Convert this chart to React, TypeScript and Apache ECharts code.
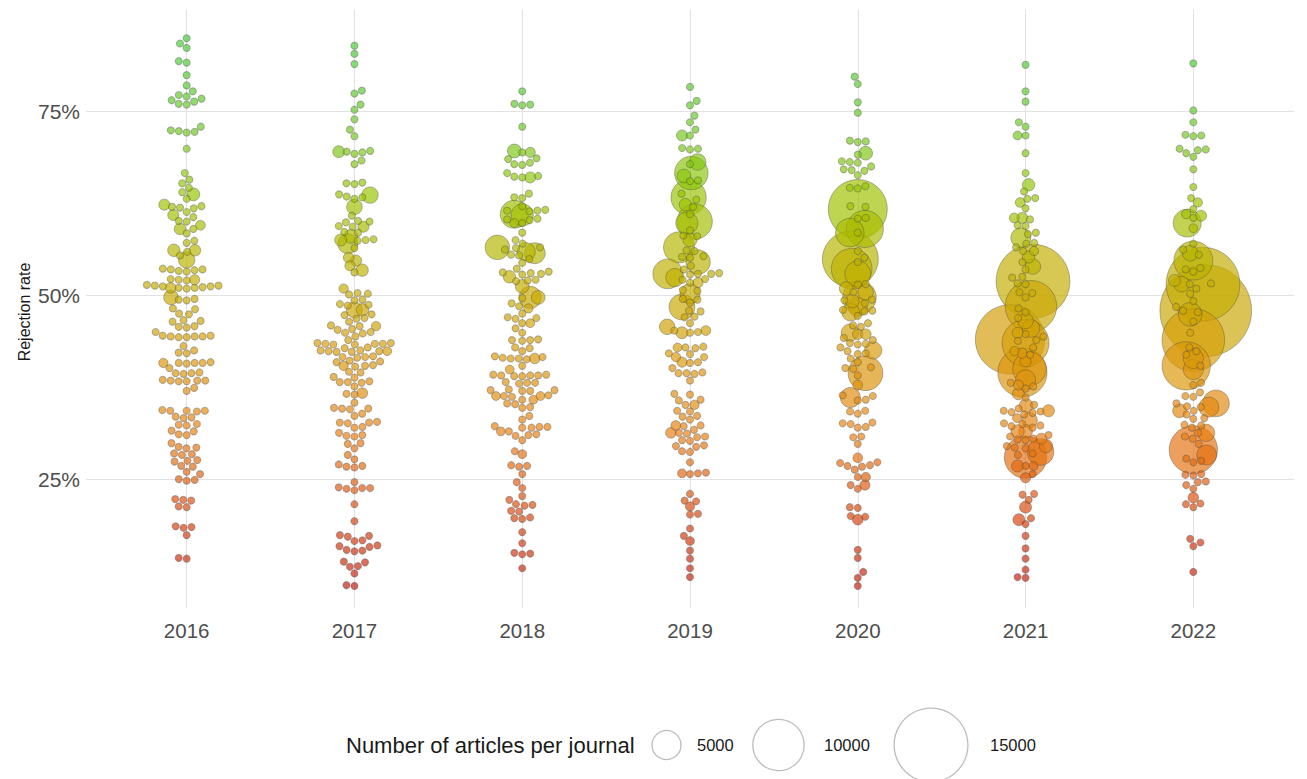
import React, { useEffect, useRef } from "react";
import * as echarts from "echarts";

// ---------- data ----------
const years = ["2016", "2017", "2018", "2019", "2020", "2021", "2022"];
const smallJournalArticles = 120; // typical size of the many small journals
const legendBreaks = [5000, 10000, 15000];
const yTickValues = [25, 50, 75];

// rejection rate (%) of small journals
const rates2016 = [84.9, 84.2, 83.6, 81.8, 81.6, 79.9, 78.5, 77.7, 77.2, 76.0, 76.5, 77.0, 76.3, 76.7, 75.9, 72.9, 72.1, 72.3, 72.2, 72.4, 69.9, 66.6, 65.7, 65.2, 64.6, 64.0, 63.1, 61.9, 62.1, 62.0, 61.8, 61.3, 60.6, 60.0, 60.1, 59.0, 58.4, 57.4, 57.1, 55.9, 55.4, 53.5, 53.4, 53.6, 53.5, 53.3, 53.2, 52.1, 52.0, 52.2, 51.3, 51.0, 51.2, 51.4, 51.1, 51.0, 51.3, 51.2, 50.9, 49.4, 49.3, 49.5, 48.2, 48.1, 47.5, 47.4, 46.5, 46.6, 46.4, 45.7, 45.6, 45.8, 45.0, 44.4, 44.3, 44.5, 44.4, 44.3, 44.5, 44.4, 43.1, 42.5, 42.2, 42.1, 40.8, 40.7, 40.9, 40.8, 40.8, 40.1, 39.4, 39.3, 39.5, 39.4, 38.4, 38.3, 38.5, 38.4, 38.3, 38.4, 37.4, 37.0, 34.3, 34.2, 34.4, 34.3, 34.3, 33.4, 33.3, 33.5, 32.4, 32.3, 32.5, 31.6, 31.5, 31.1, 31.0, 29.9, 29.3, 29.2, 29.4, 28.4, 28.3, 28.5, 27.5, 27.4, 27.6, 26.8, 26.7, 26.0, 25.7, 24.9, 24.8, 25.0, 22.2, 22.1, 22.3, 21.3, 21.2, 18.5, 18.4, 18.6, 17.4, 14.3, 14.2];
const rates2017 = [83.9, 82.8, 81.4, 77.8, 77.4, 75.9, 75.2, 73.9, 72.5, 71.6, 69.6, 69.4, 69.5, 69.2, 68.3, 67.8, 65.3, 65.1, 65.2, 63.7, 63.3, 63.4, 63.1, 60.8, 60.0, 60.1, 59.9, 59.3, 59.4, 58.5, 58.6, 57.5, 57.4, 57.6, 56.4, 53.1, 50.2, 50.3, 50.1, 49.3, 49.4, 48.7, 48.8, 48.6, 47.4, 47.3, 46.9, 46.8, 46.4, 45.8, 45.9, 45.4, 45.3, 44.9, 45.0, 44.8, 44.4, 43.9, 43.4, 43.3, 43.5, 43.4, 43.3, 43.5, 43.4, 42.9, 42.8, 42.4, 42.3, 42.5, 42.4, 42.3, 42.5, 41.6, 41.5, 41.7, 41.6, 41.0, 40.9, 41.1, 40.3, 40.5, 40.4, 39.6, 39.5, 38.9, 38.8, 38.2, 38.1, 38.3, 38.2, 37.6, 36.6, 36.5, 35.4, 34.6, 34.5, 34.7, 34.6, 33.9, 33.6, 32.7, 32.6, 32.8, 32.7, 32.0, 32.1, 31.3, 30.9, 30.8, 31.0, 29.9, 29.8, 29.2, 28.3, 27.7, 27.0, 26.7, 26.6, 26.8, 24.6, 23.8, 23.7, 23.9, 23.8, 23.5, 21.6, 19.3, 17.3, 17.2, 17.4, 16.7, 16.6, 15.9, 15.8, 16.0, 15.3, 15.2, 15.4, 13.8, 13.7, 13.2, 13.1, 12.2, 10.6, 10.5];
const rates2018 = [77.7, 75.9, 76.0, 75.8, 72.9, 69.4, 68.5, 68.6, 68.0, 67.7, 67.8, 66.6, 66.1, 66.2, 66.0, 63.8, 63.2, 63.3, 62.1, 61.5, 61.4, 61.6, 61.5, 60.3, 60.2, 60.4, 59.8, 58.5, 57.5, 57.0, 56.5, 56.4, 56.2, 55.5, 55.4, 54.9, 54.4, 53.6, 53.1, 53.0, 53.2, 52.9, 52.8, 52.0, 51.9, 52.1, 49.6, 48.9, 48.5, 47.5, 46.9, 46.8, 47.0, 46.2, 45.5, 44.9, 43.9, 43.8, 44.0, 43.9, 42.9, 42.8, 42.4, 41.7, 41.6, 41.4, 41.3, 41.5, 41.4, 40.4, 39.1, 39.0, 39.2, 39.1, 39.0, 39.2, 39.1, 38.1, 38.0, 38.2, 38.1, 37.1, 37.0, 37.2, 37.1, 37.0, 36.3, 36.2, 36.4, 35.8, 35.3, 35.2, 34.8, 34.7, 33.6, 33.1, 32.1, 32.0, 32.2, 32.1, 32.0, 31.5, 31.0, 30.9, 31.1, 30.3, 28.8, 26.8, 26.7, 26.9, 25.7, 24.6, 23.8, 22.7, 22.2, 21.5, 21.4, 21.6, 20.7, 20.6, 19.7, 19.6, 19.8, 17.8, 16.3, 14.9, 14.8, 15.0, 12.9];
const rates2019 = [78.3, 76.4, 75.8, 74.4, 73.5, 72.5, 71.7, 69.9, 69.8, 70.0, 67.8, 65.6, 65.5, 63.8, 63.0, 62.0, 61.0, 58.8, 58.0, 58.1, 56.0, 56.1, 55.2, 55.1, 55.3, 54.0, 53.5, 52.9, 52.8, 53.0, 52.9, 52.2, 52.1, 51.7, 50.7, 50.6, 49.4, 49.5, 49.0, 47.9, 47.8, 47.0, 47.1, 46.2, 45.2, 45.0, 44.9, 42.9, 42.8, 43.0, 42.1, 42.0, 41.6, 40.9, 40.8, 40.1, 39.4, 39.3, 39.5, 39.4, 38.4, 36.6, 36.5, 35.8, 35.7, 35.1, 34.3, 34.2, 33.6, 33.5, 33.1, 32.3, 32.2, 31.7, 31.3, 31.2, 30.8, 30.7, 30.3, 30.2, 29.5, 29.4, 29.6, 28.8, 28.7, 27.3, 25.8, 25.7, 25.9, 23.0, 22.1, 22.0, 20.3, 20.2, 18.3, 17.3, 15.3, 14.2, 12.9, 11.7];
const rates2020 = [79.7, 78.7, 76.2, 74.8, 70.9, 70.8, 71.0, 69.1, 68.1, 68.0, 68.2, 67.5, 67.0, 66.9, 67.1, 66.3, 64.8, 64.6, 64.5, 62.0, 62.1, 60.5, 60.4, 58.5, 56.0, 55.1, 54.5, 51.5, 51.4, 50.4, 49.4, 49.3, 48.9, 47.9, 47.8, 48.0, 47.2, 46.2, 45.9, 45.7, 44.2, 43.9, 43.4, 43.3, 43.5, 42.9, 42.4, 42.1, 42.0, 41.4, 40.9, 40.1, 40.0, 40.2, 39.1, 36.4, 36.3, 35.8, 35.7, 34.3, 34.2, 33.9, 32.6, 32.5, 32.7, 32.1, 32.0, 30.8, 30.7, 29.8, 27.3, 27.2, 26.8, 26.7, 26.9, 26.3, 25.3, 24.2, 23.7, 21.2, 21.1, 20.0, 19.9, 15.4, 14.3, 12.4, 11.6, 10.5];
const rates2021 = [81.3, 77.7, 76.3, 73.5, 72.9, 71.7, 69.3, 66.6, 64.1, 63.2, 63.1, 61.8, 60.3, 59.5, 59.4, 58.5, 58.3, 57.0, 57.1, 56.5, 56.0, 54.5, 53.5, 52.5, 52.4, 51.6, 51.5, 50.4, 50.3, 49.7, 48.2, 47.7, 46.9, 44.7, 44.4, 43.9, 43.8, 42.9, 41.9, 38.1, 37.6, 37.3, 36.1, 35.1, 34.6, 34.1, 34.0, 34.3, 34.2, 33.8, 32.6, 32.5, 32.3, 32.2, 32.0, 31.0, 30.8, 30.5, 30.3, 30.4, 29.3, 29.2, 29.5, 28.3, 28.5, 26.8, 25.7, 23.0, 22.9, 22.2, 19.7, 18.9, 17.3, 15.6, 14.2, 12.7, 11.7, 11.6];
const rates2022 = [81.5, 75.1, 73.5, 71.7, 71.6, 71.8, 69.8, 69.7, 69.9, 69.3, 68.8, 67.1, 64.7, 63.2, 61.7, 60.5, 57.0, 56.2, 55.5, 53.5, 53.7, 51.5, 53.2, 51.6, 50.9, 50.2, 49.2, 48.4, 47.9, 47.7, 46.4, 44.9, 42.9, 41.9, 42.4, 40.4, 38.1, 37.8, 36.8, 36.3, 35.3, 34.8, 34.3, 34.9, 36.2, 33.8, 33.3, 33.2, 32.3, 32.0, 32.4, 30.8, 30.5, 31.3, 29.8, 27.8, 27.5, 27.3, 25.7, 25.5, 25.6, 24.7, 24.6, 24.2, 23.7, 21.7, 21.2, 21.6, 16.9, 16.4, 15.9, 12.4];

// [rejection rate %, number of articles] of larger journals
const large2016: [number, number][] = [[63.7, 1400], [62.3, 1000], [60.9, 1000], [59.5, 700], [59.0, 1100], [56.1, 1100], [56.1, 1300], [54.8, 2200], [52.1, 800], [51.0, 900], [49.7, 1800], [40.8, 600]];
const large2017: [number, number][] = [[69.5, 1200], [63.6, 2200], [62.0, 2000], [59.3, 1000], [58.0, 1600], [57.5, 1200], [57.0, 3000], [55.1, 900], [54.7, 1000], [54.0, 800], [53.4, 1300], [50.9, 600], [48.0, 2100], [48.0, 1300], [40.4, 600], [36.7, 900], [45.8, 600], [42.4, 500]];
const large2018: [number, number][] = [[69.6, 1600], [69.4, 800], [66.0, 1000], [61.0, 4800], [60.9, 3500], [59.8, 500], [56.5, 4000], [55.7, 3200], [55.9, 2600], [52.5, 1300], [51.2, 1600], [49.7, 3500], [49.7, 1600], [48.2, 600], [46.2, 500], [41.4, 900], [39.9, 500], [36.3, 500], [36.3, 500], [35.8, 500], [31.5, 500], [28.4, 500]];
const large2019: [number, number][] = [[71.7, 1000], [68.1, 2200], [66.6, 6000], [66.2, 1600], [63.3, 6400], [62.3, 1300], [60.0, 6400], [59.8, 3500], [57.5, 1600], [56.5, 5500], [54.5, 4000], [52.9, 5200], [52.4, 2600], [51.7, 800], [50.2, 3000], [48.4, 4300], [45.7, 2000], [45.2, 700], [44.9, 1200], [42.9, 500], [41.6, 600], [40.9, 800], [35.1, 600], [32.3, 700], [31.3, 900], [25.8, 500], [21.3, 600], [16.6, 500]];
const large2020: [number, number][] = [[69.3, 1600], [61.7, 11700], [59.0, 6800], [58.5, 4900], [54.9, 11000], [53.6, 7600], [52.9, 4300], [49.7, 6000], [50.4, 2000], [50.9, 1600], [49.2, 1600], [48.4, 2800], [47.7, 2500], [44.9, 2400], [44.7, 900], [44.7, 900], [42.5, 2400], [39.4, 6300], [37.8, 700], [36.1, 3000], [27.9, 700], [25.3, 600], [24.2, 800], [19.5, 900]];
const large2021: [number, number][] = [[65.0, 1300], [62.6, 700], [60.5, 1000], [60.5, 700], [57.8, 3000], [56.0, 600], [55.2, 1300], [51.9, 15000], [44.0, 14000], [48.5, 10000], [43.5, 9000], [39.5, 9500], [40.0, 6000], [28.0, 8000], [28.7, 4500], [53.9, 2000], [38.5, 3000], [45.5, 2500], [46.5, 2000], [33.0, 2000], [31.5, 1600], [35.0, 1600], [41.0, 1000], [21.2, 1200], [19.5, 1200], [44.9, 1000], [42.4, 600], [42.1, 800], [37.8, 800], [36.6, 1200], [34.3, 1200], [33.3, 500], [31.5, 1500], [30.5, 1000], [29.5, 1500], [26.8, 500], [26.8, 1200], [25.2, 800], [71.7, 500]];
const large2022: [number, number][] = [[62.6, 600], [61.0, 600], [59.8, 4800], [60.8, 1000], [59.1, 500], [54.7, 7200], [55.7, 2000], [52.0, 1200], [47.9, 19000], [51.5, 15000], [43.9, 12500], [40.4, 9300], [29.0, 9300], [34.8, 3000], [35.3, 4500], [39.9, 3000], [41.4, 3000], [47.4, 3800], [51.5, 2000], [34.3, 1600], [31.3, 2400], [28.3, 3000], [22.5, 900]];

const smallRates = [rates2016, rates2017, rates2018, rates2019, rates2020, rates2021, rates2022];
const largeJournals = [large2016, large2017, large2018, large2019, large2020, large2021, large2022];

// ---------- layout / style ----------
const W = 1307;
const H = 779;
const GRID = { left: 86, right: 13, top: 10, bottom: 171 };
const X_MIN = -0.6, X_MAX = 6.6, X_STEP = 0.2;
const Y_MIN = 7.5, Y_MAX = 88.75, Y_STEP = 1.25;
const FONT = '"Liberation Sans", Arial, Helvetica, sans-serif';
const GRID_COLOR = "#e2e2e2";
const palette = ["#c01c10", "#d8480e", "#e88010", "#d89a08", "#c0b000", "#98c400", "#66c828", "#44cc38"];

const pxPerX = (W - GRID.left - GRID.right) / (X_MAX - X_MIN);
const pxPerY = (H - GRID.top - GRID.bottom) / (Y_MAX - Y_MIN);

function radius(articles: number) {
  return 3.3 + 0.00224 * articles;
}

// simple beeswarm: place each point as close to the centre line as possible
function swarmOffsets(ys: number[], d: number): number[] {
  const order = ys.map((_, i) => i).sort((a, b) => ys[a] - ys[b]);
  const placed: { x: number; y: number }[] = [];
  const out = new Array(ys.length).fill(0);
  order.forEach((i, k) => {
    const y = ys[i];
    const cands = [0];
    for (const q of placed) {
      const dy = Math.abs(q.y - y);
      if (dy < d) {
        const dx = Math.sqrt(d * d - dy * dy);
        cands.push(q.x + dx, q.x - dx);
      }
    }
    const sign = k % 2 === 0 ? 1 : -1;
    cands.sort((a, b) => Math.abs(a) - Math.abs(b) || sign * (b - a));
    let best = 0;
    for (const c of cands) {
      let ok = true;
      for (const q of placed) {
        const dx = c - q.x;
        const dy = y - q.y;
        if (dx * dx + dy * dy < d * d - 0.01) {
          ok = false;
          break;
        }
      }
      if (ok) {
        best = c;
        break;
      }
    }
    placed.push({ x: best, y });
    out[i] = best;
  });
  return out;
}

function buildData() {
  const data: number[][] = [];
  years.forEach((_, yi) => {
    const pts: [number, number][] = [
      ...smallRates[yi].map((r) => [r, smallJournalArticles] as [number, number]),
      ...largeJournals[yi],
    ];
    const offs = swarmOffsets(pts.map((p) => p[0] * pxPerY), 8);
    pts.forEach((p, i) => data.push([yi + offs[i] / pxPerX, p[0], p[1]]));
  });
  data.sort((a, b) => b[2] - a[2]);
  return data;
}

function cycle(n: number, idx: number) {
  return Array.from({ length: n }, (_, i) => (i === idx ? GRID_COLOR : "rgba(0,0,0,0)"));
}

export default function App() {
  const ref = useRef<HTMLDivElement>(null);
  useEffect(() => {
    if (!ref.current) return;
    const chart = echarts.init(ref.current, undefined, { renderer: "svg" });
    const data = buildData();

    const legendCx = [666.5, 778.5, 931];
    const legendLabelX = [697, 824, 990];
    const legendY = 745;

    const graphic: any[] = [
      {
        type: "text",
        x: 24,
        y: 312,
        rotation: Math.PI / 2,
        style: { text: "Rejection rate", fontSize: 16, fontFamily: FONT, fill: "#1a1a1a", align: "center", verticalAlign: "middle" },
      },
      {
        type: "text",
        x: 346,
        y: legendY,
        style: { text: "Number of articles per journal", fontSize: 22, fontFamily: FONT, fill: "#1a1a1a", align: "left", verticalAlign: "middle" },
      },
    ];
    legendBreaks.forEach((v, i) => {
      graphic.push({
        type: "circle",
        shape: { cx: legendCx[i], cy: legendY, r: radius(v) },
        style: { fill: "#ffffff", stroke: "#bdbdbd", lineWidth: 1.3 },
      });
      graphic.push({
        type: "text",
        x: legendLabelX[i],
        y: legendY,
        style: { text: String(v), fontSize: 16.5, fontFamily: FONT, fill: "#1a1a1a", align: "left", verticalAlign: "middle" },
      });
    });

    chart.setOption({
      animation: false,
      backgroundColor: "#ffffff",
      grid: { ...GRID, containLabel: false },
      xAxis: {
        type: "value",
        min: X_MIN,
        max: X_MAX,
        interval: X_STEP,
        axisLine: { show: false },
        axisTick: { show: false },
        axisLabel: {
          formatter: (v: number) => {
            const k = Math.round(v);
            return Math.abs(v - k) < 1e-6 && k >= 0 && k < years.length ? years[k] : "";
          },
          fontSize: 20.5,
          fontFamily: FONT,
          color: "#4d4d4d",
          margin: 12,
        },
        splitLine: { show: true, lineStyle: { color: cycle(5, 3), width: 1.1 } },
      },
      yAxis: {
        type: "value",
        min: Y_MIN,
        max: Y_MAX,
        interval: Y_STEP,
        axisLine: { show: false },
        axisTick: { show: false },
        axisLabel: {
          formatter: (v: number) => (yTickValues.some((t) => Math.abs(v - t) < 1e-6) ? `${Math.round(v)}%` : ""),
          fontSize: 21,
          fontFamily: FONT,
          color: "#4d4d4d",
          margin: 6,
        },
        splitLine: { show: true, lineStyle: { color: cycle(20, 14), width: 1.1 } },
      },
      visualMap: {
        show: false,
        type: "continuous",
        min: 10,
        max: 85,
        dimension: 1,
        seriesIndex: 0,
        inRange: { color: palette },
      },
      series: [
        {
          type: "scatter",
          data,
          symbol: "circle",
          symbolSize: (val: number[]) => 2 * radius(val[2]),
          itemStyle: { opacity: 0.68, borderColor: "rgba(70,70,70,0.55)", borderWidth: 1 },
          silent: true,
        },
      ],
      graphic,
    });
    return () => chart.dispose();
  }, []);
  return <div ref={ref} style={{ position: "fixed", left: 0, top: 0, width: W, height: H }} />;
}
